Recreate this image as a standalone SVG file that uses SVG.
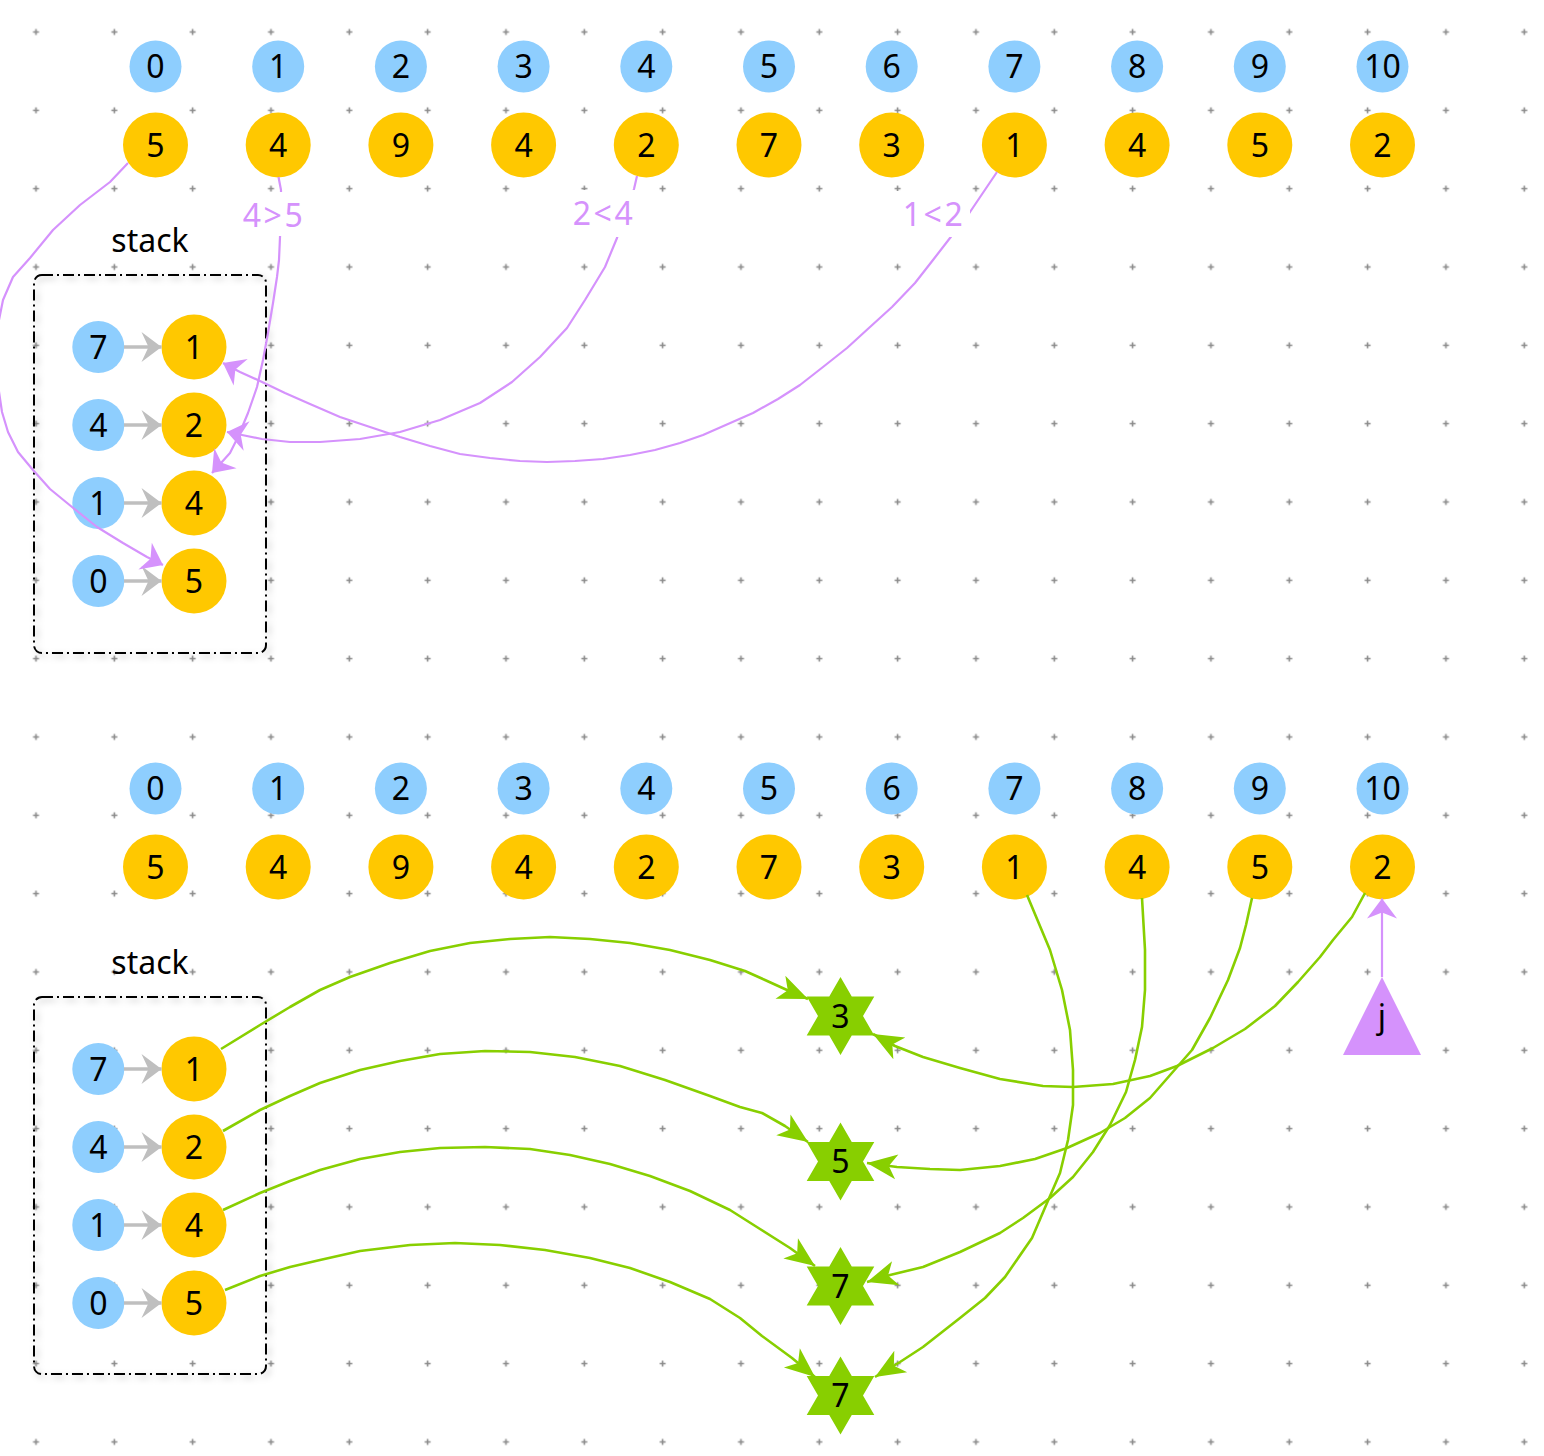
<svg xmlns="http://www.w3.org/2000/svg" width="1544" height="1456" viewBox="0 0 1544 1456">
<style>
  text { font-family: "Noto Sans", "DejaVu Sans", sans-serif; font-size: 32px; fill: #000; text-anchor: middle; }
  .idx { fill: #8ecefe; }
  .val { fill: #ffc800; }
  .star { fill: #88cf00; }
  .tri { fill: #d592fc; }
  .box { fill: none; stroke: #000; stroke-width: 2; stroke-dasharray: 11 4 2 4; }
  .pl { fill: none; stroke: #d592fc; stroke-width: 2.2; stroke-linejoin: round; }
  .gl { fill: none; stroke: #88cf00; stroke-width: 2.6; stroke-linejoin: round; }
  .gy { fill: none; stroke: #bfbfbf; stroke-width: 3.5; }
  .plab { fill: #d592fc; letter-spacing: 2.5px; }
  .lbg { fill: #ffffff; }
</style>
<defs>
  <pattern id="grid" patternUnits="userSpaceOnUse" x="-3.165" y="-7.165" width="78.33" height="78.33">
    <path d="M36.2,39.165 H42.2 M39.165,36.2 V42.2" stroke="#8a8a8a" stroke-width="1.6" fill="none"/>
  </pattern>
  <marker id="mp" markerUnits="userSpaceOnUse" markerWidth="30" markerHeight="40" refX="0" refY="0" orient="auto" overflow="visible">
    <path d="M0,0 L-20,-15 L-14,0 L-20,15 Z" fill="#d592fc"/>
  </marker>
  <marker id="mg" markerUnits="userSpaceOnUse" markerWidth="30" markerHeight="40" refX="0" refY="0" orient="auto" overflow="visible">
    <path d="M0,0 L-20,-15 L-13,0 L-20,15 Z" fill="#bfbfbf"/>
  </marker>
  <marker id="mgr" markerUnits="userSpaceOnUse" markerWidth="40" markerHeight="30" refX="0" refY="0" orient="auto" overflow="visible">
    <path d="M0,0 L-30,-12.5 L-22,0 L-30,12.5 Z" fill="#88cf00"/>
  </marker>
  <path id="hex" d="M0,-39 L11.25,-19.5 L33.8,-19.5 L22.5,0 L33.8,19.5 L11.25,19.5 L0,39 L-11.25,19.5 L-33.8,19.5 L-22.5,0 L-33.8,-19.5 L-11.25,-19.5 Z"/>
  <filter id="sh" x="-10%" y="-10%" width="125%" height="125%">
    <feDropShadow dx="3" dy="3" stdDeviation="3" flood-color="#000" flood-opacity="0.25"/>
  </filter>
</defs>

<rect x="0" y="0" width="1544" height="1456" fill="#ffffff"/>
<rect x="0" y="0" width="1544" height="1456" fill="url(#grid)"/>

<!-- stack containers -->
<g id="stack-top">
  <rect class="box" x="34" y="275" width="232" height="378" rx="8" filter="url(#sh)"/>
  <text x="150" y="252">stack</text>
</g>
<g id="stack-bottom">
  <rect class="box" x="34" y="997" width="232" height="377" rx="8" filter="url(#sh)"/>
  <text x="150" y="974">stack</text>
</g>

<!-- top array -->
<g id="top-index-0"><circle class="idx" cx="155.5" cy="66.5" r="26"/><text x="155.5" y="78">0</text></g>
<g id="top-index-1"><circle class="idx" cx="278.2" cy="66.5" r="26"/><text x="278.2" y="78">1</text></g>
<g id="top-index-2"><circle class="idx" cx="400.9" cy="66.5" r="26"/><text x="400.9" y="78">2</text></g>
<g id="top-index-3"><circle class="idx" cx="523.6" cy="66.5" r="26"/><text x="523.6" y="78">3</text></g>
<g id="top-index-4"><circle class="idx" cx="646.3" cy="66.5" r="26"/><text x="646.3" y="78">4</text></g>
<g id="top-index-5"><circle class="idx" cx="769" cy="66.5" r="26"/><text x="769" y="78">5</text></g>
<g id="top-index-6"><circle class="idx" cx="891.7" cy="66.5" r="26"/><text x="891.7" y="78">6</text></g>
<g id="top-index-7"><circle class="idx" cx="1014.4" cy="66.5" r="26"/><text x="1014.4" y="78">7</text></g>
<g id="top-index-8"><circle class="idx" cx="1137.1" cy="66.5" r="26"/><text x="1137.1" y="78">8</text></g>
<g id="top-index-9"><circle class="idx" cx="1259.8" cy="66.5" r="26"/><text x="1259.8" y="78">9</text></g>
<g id="top-index-10"><circle class="idx" cx="1382.5" cy="66.5" r="26"/><text x="1382.5" y="78">10</text></g>

<g id="top-value-0"><circle class="val" cx="155.5" cy="145" r="32.5"/><text x="155.5" y="156.5">5</text></g>
<g id="top-value-1"><circle class="val" cx="278.2" cy="145" r="32.5"/><text x="278.2" y="156.5">4</text></g>
<g id="top-value-2"><circle class="val" cx="400.9" cy="145" r="32.5"/><text x="400.9" y="156.5">9</text></g>
<g id="top-value-3"><circle class="val" cx="523.6" cy="145" r="32.5"/><text x="523.6" y="156.5">4</text></g>
<g id="top-value-4"><circle class="val" cx="646.3" cy="145" r="32.5"/><text x="646.3" y="156.5">2</text></g>
<g id="top-value-5"><circle class="val" cx="769" cy="145" r="32.5"/><text x="769" y="156.5">7</text></g>
<g id="top-value-6"><circle class="val" cx="891.7" cy="145" r="32.5"/><text x="891.7" y="156.5">3</text></g>
<g id="top-value-7"><circle class="val" cx="1014.4" cy="145" r="32.5"/><text x="1014.4" y="156.5">1</text></g>
<g id="top-value-8"><circle class="val" cx="1137.1" cy="145" r="32.5"/><text x="1137.1" y="156.5">4</text></g>
<g id="top-value-9"><circle class="val" cx="1259.8" cy="145" r="32.5"/><text x="1259.8" y="156.5">5</text></g>
<g id="top-value-10"><circle class="val" cx="1382.5" cy="145" r="32.5"/><text x="1382.5" y="156.5">2</text></g>

<!-- top stack contents -->
<g id="top-stack-idx-7"><circle class="idx" cx="98.3" cy="347" r="26"/><text x="98.3" y="358.5">7</text></g>
<g id="top-stack-val-1"><circle class="val" cx="194" cy="347" r="32.5"/><text x="194" y="358.5">1</text></g>
<g id="top-stack-idx-4"><circle class="idx" cx="98.3" cy="425" r="26"/><text x="98.3" y="436.5">4</text></g>
<g id="top-stack-val-2"><circle class="val" cx="194" cy="425" r="32.5"/><text x="194" y="436.5">2</text></g>
<g id="top-stack-idx-1"><circle class="idx" cx="98.3" cy="503" r="26"/><text x="98.3" y="514.5">1</text></g>
<g id="top-stack-val-4"><circle class="val" cx="194" cy="503" r="32.5"/><text x="194" y="514.5">4</text></g>
<g id="top-stack-idx-0"><circle class="idx" cx="98.3" cy="581" r="26"/><text x="98.3" y="592.5">0</text></g>
<g id="top-stack-val-5"><circle class="val" cx="194" cy="581" r="32.5"/><text x="194" y="592.5">5</text></g>

<!-- bottom array -->
<g id="bot-index-0"><circle class="idx" cx="155.5" cy="788.5" r="26"/><text x="155.5" y="800">0</text></g>
<g id="bot-index-1"><circle class="idx" cx="278.2" cy="788.5" r="26"/><text x="278.2" y="800">1</text></g>
<g id="bot-index-2"><circle class="idx" cx="400.9" cy="788.5" r="26"/><text x="400.9" y="800">2</text></g>
<g id="bot-index-3"><circle class="idx" cx="523.6" cy="788.5" r="26"/><text x="523.6" y="800">3</text></g>
<g id="bot-index-4"><circle class="idx" cx="646.3" cy="788.5" r="26"/><text x="646.3" y="800">4</text></g>
<g id="bot-index-5"><circle class="idx" cx="769" cy="788.5" r="26"/><text x="769" y="800">5</text></g>
<g id="bot-index-6"><circle class="idx" cx="891.7" cy="788.5" r="26"/><text x="891.7" y="800">6</text></g>
<g id="bot-index-7"><circle class="idx" cx="1014.4" cy="788.5" r="26"/><text x="1014.4" y="800">7</text></g>
<g id="bot-index-8"><circle class="idx" cx="1137.1" cy="788.5" r="26"/><text x="1137.1" y="800">8</text></g>
<g id="bot-index-9"><circle class="idx" cx="1259.8" cy="788.5" r="26"/><text x="1259.8" y="800">9</text></g>
<g id="bot-index-10"><circle class="idx" cx="1382.5" cy="788.5" r="26"/><text x="1382.5" y="800">10</text></g>

<g id="bot-value-0"><circle class="val" cx="155.5" cy="867" r="32.5"/><text x="155.5" y="878.5">5</text></g>
<g id="bot-value-1"><circle class="val" cx="278.2" cy="867" r="32.5"/><text x="278.2" y="878.5">4</text></g>
<g id="bot-value-2"><circle class="val" cx="400.9" cy="867" r="32.5"/><text x="400.9" y="878.5">9</text></g>
<g id="bot-value-3"><circle class="val" cx="523.6" cy="867" r="32.5"/><text x="523.6" y="878.5">4</text></g>
<g id="bot-value-4"><circle class="val" cx="646.3" cy="867" r="32.5"/><text x="646.3" y="878.5">2</text></g>
<g id="bot-value-5"><circle class="val" cx="769" cy="867" r="32.5"/><text x="769" y="878.5">7</text></g>
<g id="bot-value-6"><circle class="val" cx="891.7" cy="867" r="32.5"/><text x="891.7" y="878.5">3</text></g>
<g id="bot-value-7"><circle class="val" cx="1014.4" cy="867" r="32.5"/><text x="1014.4" y="878.5">1</text></g>
<g id="bot-value-8"><circle class="val" cx="1137.1" cy="867" r="32.5"/><text x="1137.1" y="878.5">4</text></g>
<g id="bot-value-9"><circle class="val" cx="1259.8" cy="867" r="32.5"/><text x="1259.8" y="878.5">5</text></g>
<g id="bot-value-10"><circle class="val" cx="1382.5" cy="867" r="32.5"/><text x="1382.5" y="878.5">2</text></g>

<!-- bottom stack contents -->
<g id="bot-stack-idx-7"><circle class="idx" cx="98.3" cy="1069" r="26"/><text x="98.3" y="1080.5">7</text></g>
<g id="bot-stack-val-1"><circle class="val" cx="194" cy="1069" r="32.5"/><text x="194" y="1080.5">1</text></g>
<g id="bot-stack-idx-4"><circle class="idx" cx="98.3" cy="1147" r="26"/><text x="98.3" y="1158.5">4</text></g>
<g id="bot-stack-val-2"><circle class="val" cx="194" cy="1147" r="32.5"/><text x="194" y="1158.5">2</text></g>
<g id="bot-stack-idx-1"><circle class="idx" cx="98.3" cy="1225" r="26"/><text x="98.3" y="1236.5">1</text></g>
<g id="bot-stack-val-4"><circle class="val" cx="194" cy="1225" r="32.5"/><text x="194" y="1236.5">4</text></g>
<g id="bot-stack-idx-0"><circle class="idx" cx="98.3" cy="1303" r="26"/><text x="98.3" y="1314.5">0</text></g>
<g id="bot-stack-val-5"><circle class="val" cx="194" cy="1303" r="32.5"/><text x="194" y="1314.5">5</text></g>

<!-- result stars -->
<g id="result-3"><use href="#hex" class="star" x="840.5" y="1016"/><text x="840.5" y="1027.5">3</text></g>
<g id="result-5"><use href="#hex" class="star" x="840.5" y="1161.5"/><text x="840.5" y="1173">5</text></g>
<g id="result-7a"><use href="#hex" class="star" x="840.5" y="1286"/><text x="840.5" y="1297.5">7</text></g>
<g id="result-7b"><use href="#hex" class="star" x="840.5" y="1395.5"/><text x="840.5" y="1407">7</text></g>

<!-- pointer j -->
<g id="pointer-j"><polygon class="tri" points="1382,977 1343,1055 1421,1055"/><text x="1382" y="1028">j</text></g>

<!-- connectors -->
<g id="connectors">
  <!-- stack index -> value (gray) -->
  <path class="gy" d="M124,347 H161.5" marker-end="url(#mg)"/>
  <path class="gy" d="M124,425 H161.5" marker-end="url(#mg)"/>
  <path class="gy" d="M124,503 H161.5" marker-end="url(#mg)"/>
  <path class="gy" d="M124,581 H161.5" marker-end="url(#mg)"/>
  <path class="gy" d="M124,1069 H161.5" marker-end="url(#mg)"/>
  <path class="gy" d="M124,1147 H161.5" marker-end="url(#mg)"/>
  <path class="gy" d="M124,1225 H161.5" marker-end="url(#mg)"/>
  <path class="gy" d="M124,1303 H161.5" marker-end="url(#mg)"/>

  <!-- purple pushes (top) -->
  <polyline class="pl" marker-end="url(#mp)" points="128,163 110,182 80,205 53,230 30,258 13,277 3,300 -2,325 -3,355 -2,385 2,412 8,432 18,452 33,470 50,489 72,507 97,527 123,543 147,557 163,565"/>
  <polyline class="pl" marker-end="url(#mp)" points="278.5,177 281,190 281,214 280,237 279,260 277,277 273,303 268,333 263,360 257,387 248,413 238,437 230,453 212,473"/>
  <polyline class="pl" marker-end="url(#mp)" points="637,176 634,189 626,213 617,238 605,267 585,300 567,328 540,357 512,382 480,403 440,420 400,432 360,439 320,442 290,442 262,439 242,435 227,432"/>
  <polyline class="pl" marker-end="url(#mp)" points="997,172 970,212 960,225 950,238 933,260 915,283 892,307 870,327 847,348 823,367 800,385 778,399 753,413 728,424 703,435 680,443 655,450 630,455 603,459 575,461 547,462 520,461 490,458 460,454 430,446 400,437 370,427 340,417 310,404 285,393 260,381 240,372 223,363"/>
  <rect class="lbg" x="235" y="192" width="76" height="44"/>
  <text class="plab" x="274" y="227">4&gt;5</text>
  <rect class="lbg" x="565" y="190" width="76" height="47"/>
  <text class="plab" x="604" y="225">2&lt;4</text>
  <rect class="lbg" x="895" y="191" width="75" height="46"/>
  <text class="plab" x="934" y="226">1&lt;2</text>

  <!-- j pointer arrow -->
  <path class="pl" d="M1382,977 V898.5" stroke-width="2.6" marker-end="url(#mp)"/>

  <!-- green result arrows -->
  <polyline class="gl" marker-end="url(#mgr)" points="221,1049 260,1025 290,1007 320,990 350,977 390,963 430,951 470,943 510,939 550,937 590,939 630,943 670,950 710,960 745,971 765,980 787,990 808,999"/>
  <polyline class="gl" marker-end="url(#mgr)" points="223,1131 260,1110 290,1096 320,1083 360,1070 400,1061 440,1054 485,1051 530,1052 575,1057 620,1066 665,1080 710,1096 740,1107 762,1113 785,1126 808,1142"/>
  <polyline class="gl" marker-end="url(#mgr)" points="223,1210 260,1193 290,1181 320,1170 360,1159 400,1152 440,1148 485,1147 530,1149 570,1155 610,1164 650,1176 690,1191 730,1210 760,1229 790,1248 815,1266"/>
  <polyline class="gl" marker-end="url(#mgr)" points="225,1290 260,1276 290,1267 320,1260 360,1251 410,1245 455,1243 500,1245 545,1250 590,1258 630,1268 670,1282 710,1299 740,1318 762,1336 792,1358 815,1377"/>
  <polyline class="gl" marker-end="url(#mgr)" points="1365,893 1352,917 1333,940 1320,957 1298,982 1275,1006 1245,1029 1213,1048 1177,1066 1150,1076 1113,1084 1073,1087 1043,1086 1000,1079 960,1068 923,1057 895,1046 873,1034"/>
  <polyline class="gl" marker-end="url(#mgr)" points="1252,898 1246,925 1240,948 1228,980 1210,1018 1192,1050 1178,1066 1150,1098 1125,1118 1100,1133 1067,1148 1035,1159 1000,1166 960,1170 930,1169 897,1167 867,1163"/>
  <polyline class="gl" marker-end="url(#mgr)" points="1142,898 1145,950 1145,990 1142,1027 1135,1060 1126,1092 1110,1125 1093,1152 1073,1177 1050,1198 1023,1218 1000,1233 960,1252 923,1267 890,1275 867,1282"/>
  <polyline class="gl" marker-end="url(#mgr)" points="1027,895 1050,950 1062,990 1070,1030 1073,1070 1073,1105 1068,1140 1060,1173 1047,1203 1032,1238 1005,1277 985,1298 960,1318 923,1347 900,1362 875,1377"/>
</g>
</svg>
